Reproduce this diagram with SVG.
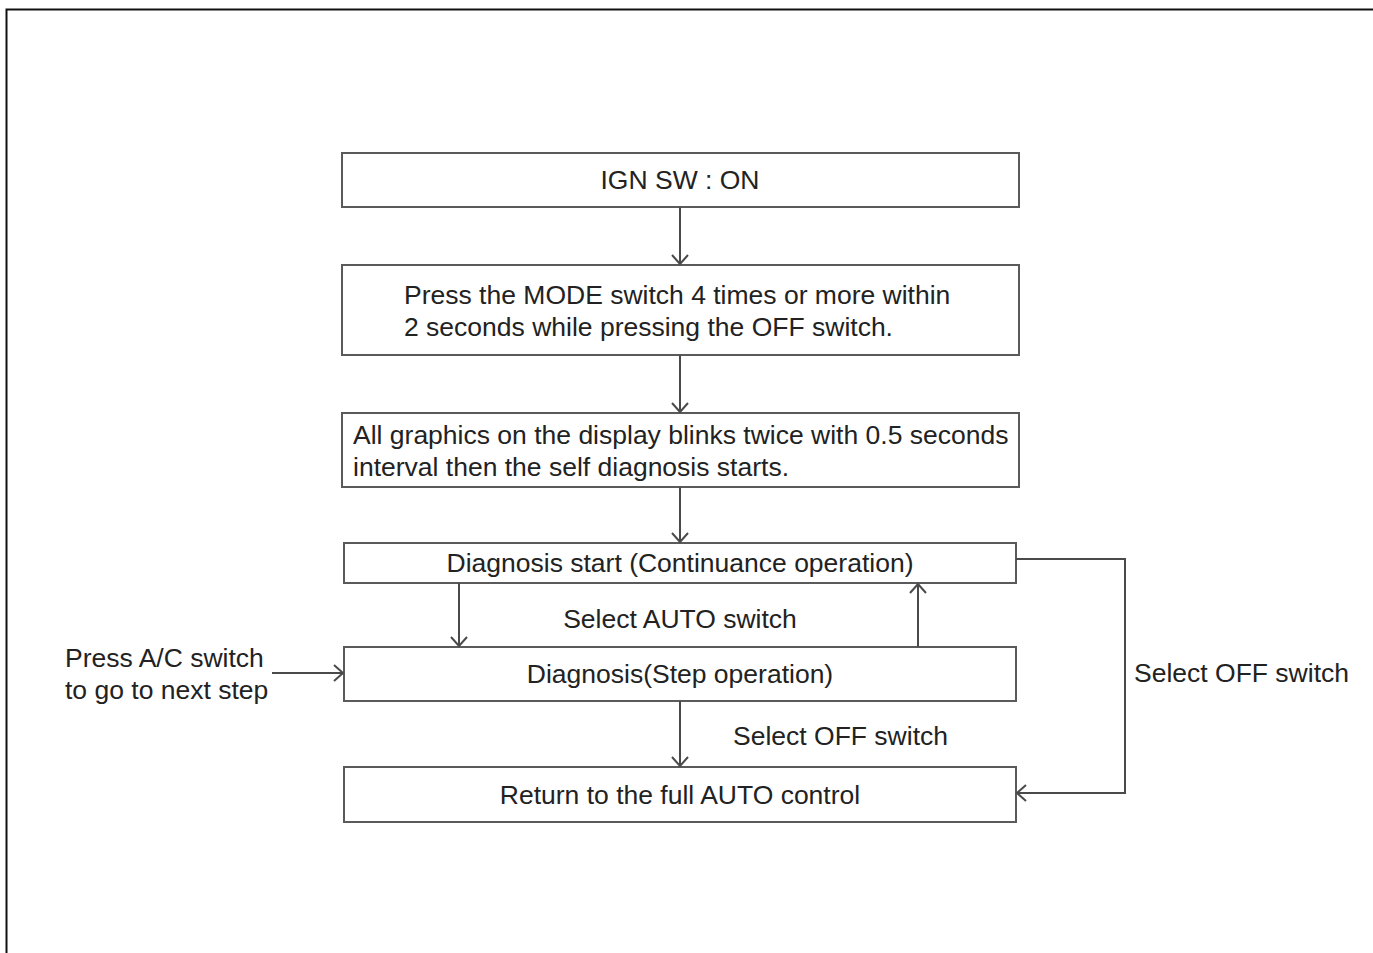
<svg xmlns="http://www.w3.org/2000/svg" width="1373" height="953" viewBox="0 0 1373 953">
<style>
.box{fill:#fff;stroke:#5a5a5a;stroke-width:2}
.t{font-family:"Liberation Sans",Arial,sans-serif;font-size:26.5px;fill:#222}
.c{text-anchor:middle}
.ln{fill:none;stroke:#4a4a4a;stroke-width:2}
</style>
<defs>
<marker id="ah" markerUnits="userSpaceOnUse" markerWidth="20" markerHeight="24" viewBox="-12 -12 14 24" refX="0" refY="0" orient="auto">
<path d="M-9,-8 L0,0 L-9,8" fill="none" stroke="#4a4a4a" stroke-width="2"/>
</marker>
</defs>
<rect width="1373" height="953" fill="#fff"/>
<path d="M6.5,953 V9.5 H1373" fill="none" stroke="#111" stroke-width="2"/>
<g id="n1"><rect class="box" x="342" y="153" width="677" height="54"/><text class="t c" x="680" y="189">IGN SW : ON</text></g>
<g id="n2"><rect class="box" x="342" y="265" width="677" height="90"/><text class="t" x="404" y="304">Press the MODE switch 4 times or more within</text><text class="t" x="404" y="336">2 seconds while pressing the OFF switch.</text></g>
<g id="n3"><rect class="box" x="342" y="413" width="677" height="74"/><text class="t" x="353" y="444">All graphics on the display blinks twice with 0.5 seconds</text><text class="t" x="353" y="476">interval then the self diagnosis starts.</text></g>
<g id="n4"><rect class="box" x="344" y="543" width="672" height="40"/><text class="t c" x="680" y="572">Diagnosis start (Continuance operation)</text></g>
<g id="n5"><rect class="box" x="344" y="647" width="672" height="54"/><text class="t c" x="680" y="683">Diagnosis(Step operation)</text></g>
<g id="n6"><rect class="box" x="344" y="767" width="672" height="55"/><text class="t c" x="680" y="804">Return to the full AUTO control</text></g>
<g id="connectors">
<line class="ln" x1="680" y1="207" x2="680" y2="264" marker-end="url(#ah)"/>
<line class="ln" x1="680" y1="355" x2="680" y2="412" marker-end="url(#ah)"/>
<line class="ln" x1="680" y1="487" x2="680" y2="542" marker-end="url(#ah)"/>
<line class="ln" x1="459" y1="583" x2="459" y2="646" marker-end="url(#ah)"/>
<line class="ln" x1="918" y1="647" x2="918" y2="584" marker-end="url(#ah)"/>
<line class="ln" x1="272" y1="673" x2="343" y2="673" marker-end="url(#ah)"/>
<line class="ln" x1="680" y1="701" x2="680" y2="766" marker-end="url(#ah)"/>
<polyline class="ln" points="1016,559 1125,559 1125,793 1017,793" marker-end="url(#ah)"/>
</g>
<g id="labels">
<text class="t c" x="680" y="628">Select AUTO switch</text>
<text class="t" x="65" y="667">Press A/C switch</text>
<text class="t" x="65" y="699">to go to next step</text>
<text class="t" x="733" y="745">Select OFF switch</text>
<text class="t" x="1134" y="682">Select OFF switch</text>
</g>
</svg>
